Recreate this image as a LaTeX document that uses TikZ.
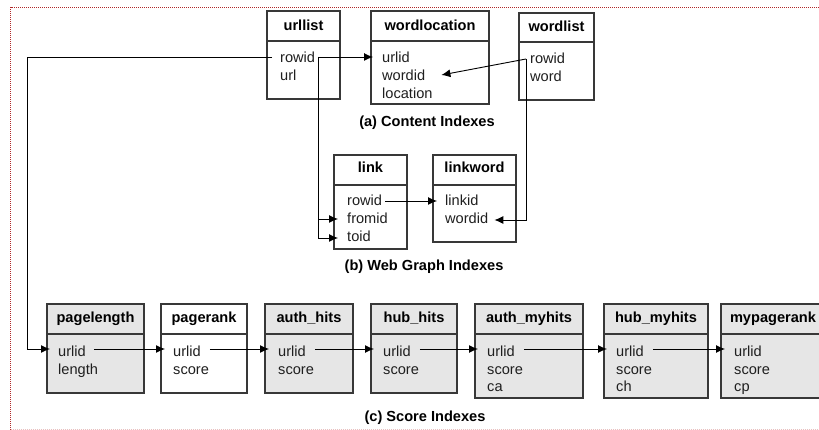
\documentclass[tikz,border=0pt]{standalone}
\usepackage{fontspec}
\setmainfont{Liberation Sans}
\usetikzlibrary{arrows.meta}
\definecolor{boxgray}{HTML}{E6E6E6}
\definecolor{edge}{HTML}{383838}
\definecolor{frame}{HTML}{B02828}
\definecolor{frameb}{HTML}{E8C0C0}
\newcommand\tbl[9]{%
  \draw[boxline,fill=#2] (#3,#5) rectangle (#4,#7);
  \draw[boxline] (#3,#6) -- (#4,#6);
  \node[hdr] (#1) at ({(#3+#4)/2},#8) {#9};
}
\begin{document}
\begin{tikzpicture}[x=1pt,y=-1pt,
  boxline/.style={draw=edge,line width=1.5pt},
  hdr/.style={anchor=base,inner sep=0pt,font=\fontsize{14.6}{18}\selectfont\bfseries},
  fld/.style={anchor=base west,inner sep=0pt,font=\fontsize{14.6}{18}\selectfont,text=black!88},
  captext/.style={anchor=base,inner sep=0pt,font=\fontsize{14.6}{18}\selectfont\bfseries},
  conn/.style={draw=black,line width=0.9pt},
  arr/.style={conn,-{Latex[length=9pt,width=8pt]}}]
\useasboundingbox (0,0) rectangle (819,430);
\clip (0,0) rectangle (819,430);
% frame
\draw[frame,line width=1.3pt,dash pattern=on 1pt off 1pt] (10.5,430) -- (10.5,7.5) -- (819,7.5);
\draw[frameb,line width=1pt,dash pattern=on 1pt off 1pt] (10.5,429) -- (819,429);

% (a) content indexes
\tbl{urllist}{white}{267}{340}{11}{41}{99}{31}{urllist}
\node[fld] (ul-rowid) at (280,63) {rowid};
\node[fld] (ul-url) at (280,81) {url};

\tbl{wordlocation}{white}{371}{489}{11}{41}{104}{31}{wordlocation}
\node[fld] (wl-urlid) at (382,63) {urlid};
\node[fld] (wl-wordid) at (382,81) {wordid};
\node[fld] (wl-location) at (382,99) {location};

\tbl{wordlist}{white}{519}{594}{13}{42}{100}{32}{wordlist}
\node[fld] (wd-rowid) at (530,64) {rowid};
\node[fld] (wd-word) at (530,82) {word};

\node[captext] (capa) at (427,127) {(a) Content Indexes};

% (b) web graph indexes
\tbl{link}{white}{334}{407}{155}{185}{249}{173}{link}
\node[fld] (lk-rowid) at (347,206) {rowid};
\node[fld] (lk-fromid) at (347,224) {fromid};
\node[fld] (lk-toid) at (347,242) {toid};

\tbl{linkword}{white}{433}{516}{155}{185}{242}{173}{linkword}
\node[fld] (lw-linkid) at (445,206) {linkid};
\node[fld] (lw-wordid) at (445,224) {wordid};

\node[captext] (capb) at (424,271) {(b) Web Graph Indexes};

% (c) score indexes
\tbl{pagelength}{boxgray}{47}{144}{304}{334}{393}{323}{pagelength}
\node[fld] (pl-urlid) at (58,356) {urlid};
\node[fld] (pl-length) at (58,374) {length};

\tbl{pagerank}{white}{161}{247}{304}{334}{393}{323}{pagerank}
\node[fld] (pr-urlid) at (173,356) {urlid};
\node[fld] (pr-score) at (173,374) {score};

\tbl{authhits}{boxgray}{265}{353}{304}{334}{393}{323}{auth\_hits}
\node[fld] (ah-urlid) at (278,356) {urlid};
\node[fld] (ah-score) at (278,374) {score};

\tbl{hubhits}{boxgray}{371}{457}{304}{334}{393}{323}{hub\_hits}
\node[fld] (hh-urlid) at (383,356) {urlid};
\node[fld] (hh-score) at (383,374) {score};

\tbl{authmyhits}{boxgray}{475}{583}{304}{334}{398}{323}{auth\_myhits}
\node[fld] (am-urlid) at (487,356) {urlid};
\node[fld] (am-score) at (487,374) {score};
\node[fld] (am-ca) at (487,391) {ca};

\tbl{hubmyhits}{boxgray}{604}{708}{304}{334}{398}{323}{hub\_myhits}
\node[fld] (hm-urlid) at (616,356) {urlid};
\node[fld] (hm-score) at (616,374) {score};
\node[fld] (hm-ch) at (616,391) {ch};

\tbl{mypagerank}{boxgray}{721}{825}{304}{334}{398}{323}{mypagerank}
\node[fld] (mp-urlid) at (734,356) {urlid};
\node[fld] (mp-score) at (734,374) {score};
\node[fld] (mp-cp) at (734,391) {cp};

\node[captext] (capc) at (425,421) {(c) Score Indexes};

% connectors
\coordinate (leftbus) at (27,57);
\coordinate (ulsplit) at ([xshift=3pt,yshift=6pt]ul-rowid.base east);
\draw[arr] ([xshift=-8pt,yshift=6pt]ul-rowid.base west) -- (leftbus) |- ([xshift=-8pt,yshift=7pt]pl-urlid.base west);
\draw[arr] (ulsplit) -- ([xshift=-9pt,yshift=6pt]wl-urlid.base west);
\draw[arr] (ulsplit) |- ([xshift=-9pt,yshift=5pt]lk-fromid.base west);
\draw[arr] (ulsplit) |- ([xshift=-9pt,yshift=4pt]lk-toid.base west);

\coordinate (wdsplit) at ([xshift=-4pt,yshift=5pt]wd-rowid.base west);
\draw[arr] (wdsplit) -- ([xshift=16pt,yshift=6pt]wl-wordid.base east);
\draw[arr] (wdsplit) |- ([xshift=6pt,yshift=4pt]lw-wordid.base east);

\draw[arr] ([xshift=3pt,yshift=5pt]lk-rowid.base east) -- ([xshift=-8pt,yshift=5pt]lw-linkid.base west);

\draw[arr] ([xshift=8pt,yshift=7pt]pl-urlid.base east) -- ([xshift=-8pt,yshift=7pt]pr-urlid.base west);
\draw[arr] ([xshift=9pt,yshift=7pt]pr-urlid.base east) -- ([xshift=-9pt,yshift=7pt]ah-urlid.base west);
\draw[arr] ([xshift=9pt,yshift=7pt]ah-urlid.base east) -- ([xshift=-9pt,yshift=7pt]hh-urlid.base west);
\draw[arr] ([xshift=9pt,yshift=7pt]hh-urlid.base east) -- ([xshift=-9pt,yshift=7pt]am-urlid.base west);
\draw[arr] ([xshift=9pt,yshift=7pt]am-urlid.base east) -- ([xshift=-9pt,yshift=7pt]hm-urlid.base west);
\draw[arr] ([xshift=9pt,yshift=7pt]hm-urlid.base east) -- ([xshift=-9pt,yshift=7pt]mp-urlid.base west);
\end{tikzpicture}
\end{document}
